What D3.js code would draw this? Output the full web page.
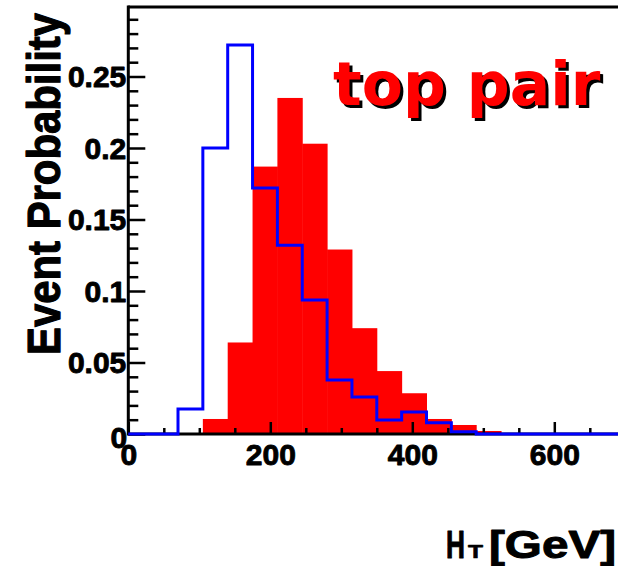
<!DOCTYPE html>
<html>
<head>
<meta charset="utf-8">
<script src="https://cdn.jsdelivr.net/npm/d3@7"></script>
<style>
  html, body { margin: 0; padding: 0; background: #fff; overflow: hidden; }
  svg { display: block; }
</style>
</head>
<body>
<svg id="chart" width="618" height="566"></svg>
<script>
// HT histogram binning (GeV): lower edges of 35 GeV bins, last entry is the upper edge
const binEdges = [0, 35, 70, 105, 140, 175, 210, 245, 280, 315, 350,
                  385, 420, 455, 490, 525, 560, 595, 630, 665, 700];

// top pair events (filled red histogram), normalised per bin
const topPair = [0, 0, 0, 0.0105, 0.064, 0.187, 0.235, 0.203, 0.129, 0.074,
                 0.044, 0.0285, 0.0105, 0.0063, 0.0021, 0, 0, 0, 0, 0];

// comparison sample (blue outline histogram), normalised per bin
const otherSample = [0, 0, 0.0175, 0.2, 0.272, 0.172, 0.132, 0.0937, 0.0378, 0.0258,
                     0.0098, 0.0153, 0.0078, 0.0015, 0, 0, 0, 0, 0, 0];

// axis ticks and labels
const xMajorTicks = [0, 200, 400, 600];
const xMajorLabels = ["0", "200", "400", "600"];
const xMinorTicks = [50, 100, 150, 250, 300, 350, 450, 500, 550, 650];
const yMajorTicks = [0, 0.05, 0.1, 0.15, 0.2, 0.25];
const yMajorLabels = ["0", "0.05", "0.1", "0.15", "0.2", "0.25"];
const yMinorTicks = [0.01, 0.02, 0.03, 0.04, 0.06, 0.07, 0.08, 0.09, 0.11, 0.12, 0.13, 0.14,
                     0.16, 0.17, 0.18, 0.19, 0.21, 0.22, 0.23, 0.24, 0.26, 0.27, 0.28, 0.29];

const svg = d3.select("#chart");

const frame = { left: 128.3, right: 625.3, top: 7, bottom: 434 };
const x = d3.scaleLinear().domain([0, 700]).range([frame.left, frame.right]);
const y = d3.scaleLinear().domain([0, 0.2986]).range([frame.bottom, frame.top]);

const bins = topPair.map((v, i) => ({ x0: binEdges[i], x1: binEdges[i + 1], red: v, blue: otherSample[i] }));

// filled top pair histogram
svg.append("g").selectAll("rect")
  .data(bins.filter(d => d.red > 0))
  .join("rect")
  .attr("x", d => x(d.x0))
  .attr("width", d => x(d.x1) - x(d.x0) + 0.5)
  .attr("y", d => y(d.red))
  .attr("height", d => y(0) - y(d.red))
  .attr("fill", "#ff0000");

// frame: top line
svg.append("line")
  .attr("x1", frame.left).attr("x2", frame.right)
  .attr("y1", frame.top).attr("y2", frame.top)
  .attr("stroke", "#000").attr("stroke-width", 3);

const labelFont = "'Liberation Sans', Arial, sans-serif";

// heavy bold look for axis text
function heavy(sel, w) {
  sel.attr("font-family", labelFont)
    .attr("font-weight", "bold")
    .attr("fill", "#000")
    .attr("stroke", "#000")
    .attr("stroke-width", w)
    .attr("stroke-linejoin", "round");
}

// y axis
const yAxisMajor = d3.axisLeft(y)
  .tickValues(yMajorTicks)
  .tickFormat((d, i) => yMajorLabels[i])
  .tickSize(-17)
  .tickPadding(2);
const yAxisMinor = d3.axisLeft(y)
  .tickValues(yMinorTicks)
  .tickFormat("")
  .tickSize(-10);

const gyMinor = svg.append("g").attr("transform", `translate(${frame.left},0)`).call(yAxisMinor);
const gy = svg.append("g").attr("transform", `translate(${frame.left},0)`).call(yAxisMajor);
[gy, gyMinor].forEach(g => {
  g.select(".domain").remove();
  g.selectAll(".tick line").attr("stroke", "#000").attr("stroke-width", 2.5);
});
gy.selectAll(".tick text")
  .call(heavy, 0.9)
  .attr("font-size", 30)
  .attr("dy", "0.34em");
gy.selectAll(".tick text").filter((d) => d === 0).attr("dy", "0.45em").attr("x", -1);

// x axis
const xAxisMajor = d3.axisBottom(x)
  .tickValues(xMajorTicks)
  .tickFormat((d, i) => xMajorLabels[i])
  .tickSize(-12)
  .tickPadding(10);
const xAxisMinor = d3.axisBottom(x)
  .tickValues(xMinorTicks)
  .tickFormat("")
  .tickSize(-6);

const gxMinor = svg.append("g").attr("transform", `translate(0,${frame.bottom})`).call(xAxisMinor);
const gx = svg.append("g").attr("transform", `translate(0,${frame.bottom})`).call(xAxisMajor);
[gx, gxMinor].forEach(g => {
  g.select(".domain").remove();
  g.selectAll(".tick line").attr("stroke", "#000").attr("stroke-width", 2.5);
});
gx.selectAll(".tick text")
  .call(heavy, 0.9)
  .attr("font-size", 30);

// axis lines
svg.append("line")
  .attr("x1", frame.left).attr("x2", frame.right)
  .attr("y1", frame.bottom).attr("y2", frame.bottom)
  .attr("stroke", "#000").attr("stroke-width", 3);
svg.append("line")
  .attr("x1", frame.left).attr("x2", frame.left)
  .attr("y1", frame.top - 1.5).attr("y2", frame.bottom + 1.5)
  .attr("stroke", "#000").attr("stroke-width", 3);

// outline histogram as a step line across the full range
const stepPoints = [];
bins.forEach(d => {
  stepPoints.push([d.x0, d.blue]);
  stepPoints.push([d.x1, d.blue]);
});
const stepLine = d3.line().x(p => x(p[0])).y(p => y(p[1]));
svg.append("path")
  .attr("d", stepLine(stepPoints))
  .attr("fill", "none")
  .attr("stroke", "#0000ff")
  .attr("stroke-width", 3)
  .attr("stroke-linejoin", "miter");

// y axis title
svg.append("text")
  .attr("transform", "translate(60,184) rotate(-90)")
  .attr("text-anchor", "middle")
  .call(heavy, 1.2)
  .attr("font-size", 47)
  .attr("textLength", 342)
  .attr("lengthAdjust", "spacingAndGlyphs")
  .text("Event Probability");

// x axis title: H with subscript-style T
const xt = svg.append("g");
xt.append("text").attr("x", 446).attr("y", 558).attr("font-size", 39).call(heavy, 1)
  .attr("textLength", 19).attr("lengthAdjust", "spacingAndGlyphs").text("H");
xt.append("text").attr("x", 468).attr("y", 558).attr("font-size", 19).call(heavy, 0.6)
  .attr("textLength", 15).attr("lengthAdjust", "spacingAndGlyphs").text("T");
xt.append("text").attr("x", 489).attr("y", 558).attr("font-size", 39).call(heavy, 1)
  .attr("textLength", 127).attr("lengthAdjust", "spacingAndGlyphs").text("[GeV]");

// process label with shadow
const lbl = svg.append("g")
  .attr("font-family", "'DejaVu Sans', Verdana, sans-serif")
  .attr("font-weight", "bold")
  .attr("font-size", 60);
lbl.append("text").attr("x", 336).attr("y", 108).attr("fill", "#000").text("top pair");
lbl.append("text").attr("x", 333).attr("y", 105).attr("fill", "#ff0000").text("top pair");
</script>
</body>
</html>
